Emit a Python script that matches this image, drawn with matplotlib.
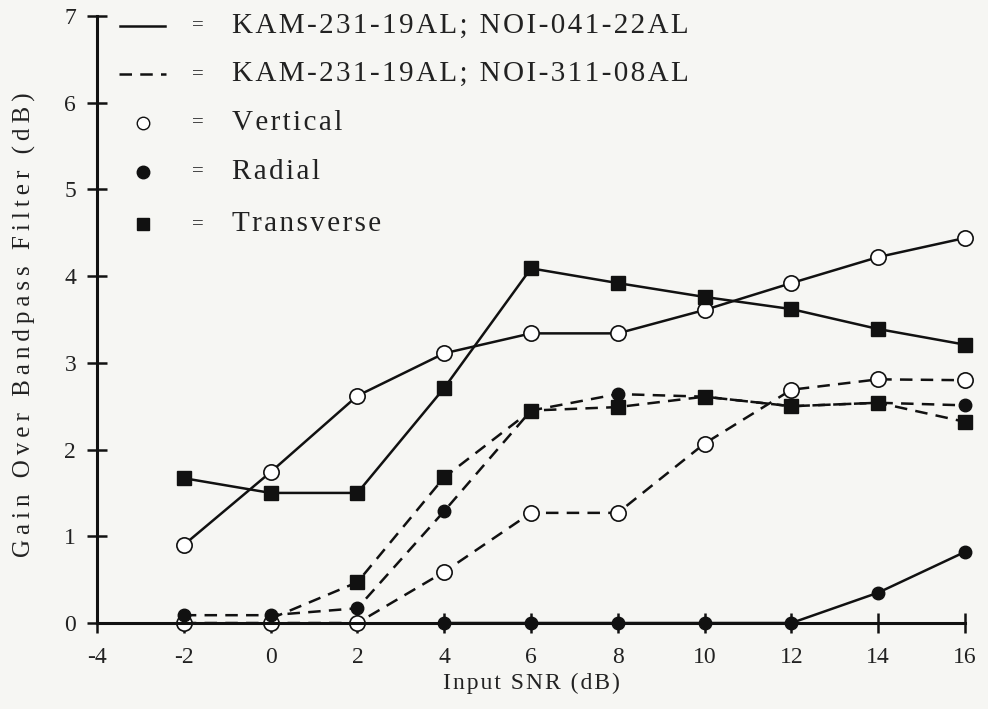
import matplotlib
matplotlib.use("Agg")
import matplotlib.pyplot as plt

# Input SNR (dB)
snr = [-2, 0, 2, 4, 6, 8, 10, 12, 14, 16]

# KAM-231-19AL; NOI-041-22AL (solid)
solid_vertical = [0.90, 1.74, 2.62, 3.11, 3.34, 3.34, 3.61, 3.92, 4.22, 4.44]
solid_transverse = [1.67, 1.50, 1.50, 2.71, 4.09, 3.92, 3.76, 3.62, 3.39, 3.21]
solid_radial_snr = [4, 6, 8, 10, 12, 14, 16]
solid_radial = [0.0, 0.0, 0.0, 0.0, 0.0, 0.35, 0.82]

# KAM-231-19AL; NOI-311-08AL (dashed)
dashed_vertical = [0.0, 0.0, 0.0, 0.59, 1.27, 1.27, 2.07, 2.69, 2.81, 2.80]
dashed_radial = [0.09, 0.09, 0.17, 1.29, 2.45, 2.64, 2.61, 2.50, 2.54, 2.51]
dashed_transverse_snr = [0, 2, 4, 6, 8, 10, 12, 14, 16]
dashed_transverse = [0.05, 0.47, 1.68, 2.45, 2.49, 2.61, 2.50, 2.54, 2.32]

x_ticks = [-4, -2, 0, 2, 4, 6, 8, 10, 12, 14, 16]
y_ticks = [0, 1, 2, 3, 4, 5, 6, 7]

legend_rows = [
    ("solid", "KAM-231-19AL; NOI-041-22AL"),
    ("dashed", "KAM-231-19AL; NOI-311-08AL"),
    ("open", "Vertical"),
    ("filled", "Radial"),
    ("square", "Transverse"),
]

BG = "#f6f6f3"
INK = "#111111"
TXT = "#222222"
FONT = "Liberation Serif"
plt.rcParams["font.family"] = [FONT, "DejaVu Serif"]

HAIR = "\u200a"
THIN = "\u2009"


def tracked(s, gap=HAIR):
    """Open up letter spacing by putting a narrow space between characters."""
    return gap.join(s)


fig = plt.figure(figsize=(9.88, 7.09), dpi=100, facecolor=BG)
ax = fig.add_axes([97 / 988, 1 - 623 / 709, (965 - 97) / 988, (623 - 16) / 709])
ax.set_facecolor(BG)

LW = 1.8
DASH = (0, (5, 3.3))
open_kw = dict(marker="o", ms=11, mfc="white", mec=INK, mew=1.2)
filled_kw = dict(marker="o", ms=9, mfc=INK, mec=INK)
square_kw = dict(marker="s", ms=10, mfc=INK, mec=INK)

# dashed series
ax.plot(snr, dashed_vertical, color=INK, lw=LW, ls=DASH, clip_on=False, zorder=3, **open_kw)
ax.plot(dashed_transverse_snr, dashed_transverse, color=INK, lw=LW, ls=DASH,
        markevery=list(range(1, len(dashed_transverse))), clip_on=False, zorder=3, **square_kw)
ax.plot(snr, dashed_radial, color=INK, lw=LW, ls=DASH, clip_on=False, zorder=3, **filled_kw)

# solid series
ax.plot(snr, solid_vertical, color=INK, lw=LW, clip_on=False, zorder=4, **open_kw)
ax.plot(snr, solid_transverse, color=INK, lw=LW, clip_on=False, zorder=4, **square_kw)
ax.plot(solid_radial_snr, solid_radial, color=INK, lw=LW, clip_on=False, zorder=4, **filled_kw)

ax.set_xlim(-4, 16)
ax.set_ylim(0, 7)
for side in ("top", "right"):
    ax.spines[side].set_visible(False)
for side in ("left", "bottom"):
    ax.spines[side].set_linewidth(2.2)
    ax.spines[side].set_color(INK)
    ax.spines[side].set_zorder(5)

ax.set_xticks(x_ticks)
ax.set_yticks(y_ticks)
ax.set_xticklabels([str(t) for t in x_ticks])
ax.set_yticklabels([str(t) for t in y_ticks])
ax.tick_params(axis="both", direction="inout", length=14, width=1.8, color=INK,
               labelsize=17, labelcolor=TXT)
ax.tick_params(axis="x", pad=10)
ax.tick_params(axis="y", pad=8)

ax.set_xlabel(tracked("Input SNR (dB)"), fontsize=17, color=TXT, labelpad=4)
fig.text(24 / 988, 1 - 325 / 709, tracked("Gain Over Bandpass Filter (dB)", THIN), rotation=90,
         ha="center", va="center", fontsize=18, color=TXT)

# key drawn inside the plotting area
row_y = [6.89, 6.33, 5.77, 5.20, 4.60]
for (kind, label), yy in zip(legend_rows, row_y):
    if kind == "solid":
        ax.plot([-3.47, -2.43], [yy, yy], color=INK, lw=LW, clip_on=False)
    elif kind == "dashed":
        ax.plot([-3.5, -2.4], [yy, yy], color=INK, lw=LW, ls=DASH, clip_on=False)
    elif kind == "open":
        ax.plot([-2.95], [yy], ls="none", marker="o", ms=9, mfc="white", mec=INK, mew=1.0)
    elif kind == "filled":
        ax.plot([-2.95], [yy], ls="none", marker="o", ms=9, mfc=INK, mec=INK)
    else:
        ax.plot([-2.95], [yy], ls="none", marker="s", ms=9, mfc=INK, mec=INK)
    ax.text(-1.67, yy, "=", ha="center", va="center", fontsize=15, color=TXT)
    ax.text(-0.89, yy, tracked(label), ha="left", va="center", fontsize=21, color=TXT)

fig.savefig("out.png", dpi=100, facecolor=BG)
